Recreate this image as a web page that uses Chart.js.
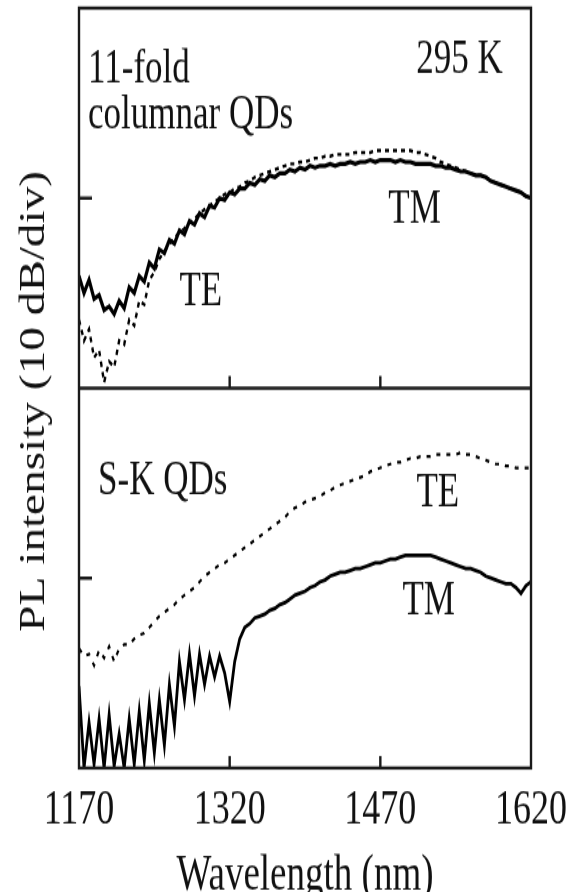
<!DOCTYPE html>
<html lang="en">
<head>
    <meta charset="UTF-8">
    <title>PL intensity TE / TM</title>
    <script src="https://cdn.jsdelivr.net/npm/chart.js"></script>
    <style>
        html {
            overflow: hidden;
        }
        body {
            margin: 0;
            padding: 0;
            width: 573px;
            height: 892px;
            background: #fff;
        }
        /* the original figure is stretched vertically, so is this one */
        #wrap {
            width: 573px;
            height: 666px;
            transform: scaleY(1.35);
            transform-origin: 0 0;
        }
    </style>
</head>
<body>
    <div id="wrap"><canvas id="plChart"></canvas></div>

    <script>
        // wavelength (nm)
        const wavelengths = [
            1170, 1175, 1180, 1185, 1190, 1195, 1200, 1205, 1210, 1215,
            1220, 1225, 1230, 1235, 1240, 1245, 1250, 1255, 1260, 1265,
            1270, 1275, 1280, 1285, 1290, 1295, 1300, 1305, 1310, 1315,
            1320, 1325, 1330, 1335, 1340, 1345, 1350, 1355, 1360, 1365,
            1370, 1375, 1380, 1385, 1390, 1395, 1400, 1405, 1410, 1415,
            1420, 1425, 1430, 1435, 1440, 1445, 1450, 1455, 1460, 1465,
            1470, 1475, 1480, 1485, 1490, 1495, 1500, 1505, 1510, 1515,
            1520, 1525, 1530, 1535, 1540, 1545, 1550, 1555, 1560, 1565,
            1570, 1575, 1580, 1585, 1590, 1595, 1600, 1605, 1610, 1615,
            1620
        ];

        // 11-fold columnar QDs, dB inside the upper panel (0..20)
        const columnarTM = [
            5.9, 5.0, 5.7, 4.7, 4.9, 4.1, 4.3, 3.9, 4.6, 4.2,
            5.3, 5.0, 5.9, 5.6, 6.6, 6.3, 7.3, 7.1, 7.8, 7.6,
            8.3, 8.1, 8.8, 8.6, 9.2, 9.0, 9.6, 9.5, 10.0, 9.9,
            10.3, 10.2, 10.5, 10.5, 10.8, 10.7, 11.0, 10.9, 11.2, 11.1,
            11.3, 11.3, 11.5, 11.4, 11.6, 11.5, 11.7, 11.6, 11.7, 11.7,
            11.8, 11.7, 11.8, 11.8, 11.9, 11.8, 11.9, 11.9, 12.0, 11.9,
            12.0, 12.0, 12.0, 11.9, 12.0, 11.9, 11.9, 11.8, 11.8, 11.8,
            11.8, 11.7, 11.7, 11.6, 11.6, 11.5, 11.4, 11.4, 11.3, 11.2,
            11.2, 11.1, 10.9, 10.8, 10.7, 10.6, 10.5, 10.4, 10.3, 10.1,
            10.0
        ];
        const columnarTE = [
            3.6, 2.5, 3.1, 1.6, 2.0, 0.3, 1.4, 1.1, 2.5, 2.3,
            3.6, 3.3, 4.6, 4.4, 5.7, 6.1, 6.8, 7.2, 7.6, 7.9,
            8.2, 8.4, 8.7, 8.9, 9.2, 9.4, 9.6, 9.8, 10.0, 10.2,
            10.3, 10.5, 10.6, 10.8, 10.9, 11.1, 11.2, 11.3, 11.4, 11.5,
            11.6, 11.7, 11.8, 11.8, 11.9, 11.9, 12.0, 12.1, 12.1, 12.2,
            12.2, 12.3, 12.3, 12.3, 12.3, 12.4, 12.4, 12.4, 12.4, 12.5,
            12.5, 12.5, 12.5, 12.5, 12.5, 12.5, 12.5, 12.4, 12.4, 12.3,
            12.2, 12.1, 11.9, 11.8, 11.7, 11.6, 11.5, 11.4, 11.3, 11.2,
            11.2, 11.1, 10.9, 10.8, 10.7, 10.6, 10.5, 10.4, 10.3, 10.1,
            10.0
        ];

        // S-K QDs, dB inside the lower panel (0..20)
        const skTE = [
            6.3, 5.9, 6.0, 5.4, 6.2, 5.8, 6.4, 5.6, 6.3, 6.5,
            6.5, 6.8, 7.0, 7.1, 7.4, 7.7, 8.0, 8.2, 8.4, 8.6,
            8.9, 9.1, 9.3, 9.5, 9.8, 10.1, 10.3, 10.5, 10.7, 10.8,
            11.0, 11.2, 11.4, 11.6, 11.8, 12.0, 12.2, 12.4, 12.6, 12.8,
            13.0, 13.2, 13.5, 13.7, 13.8, 14.0, 14.1, 14.2, 14.3, 14.5,
            14.6, 14.8, 14.9, 15.0, 15.1, 15.2, 15.3, 15.4, 15.6, 15.7,
            15.8, 15.9, 16.0, 16.1, 16.1, 16.2, 16.3, 16.3, 16.4, 16.4,
            16.4, 16.5, 16.5, 16.5, 16.5, 16.5, 16.6, 16.5, 16.5, 16.4,
            16.3, 16.2, 16.1, 16.0, 16.0, 15.9, 15.9, 15.8, 15.8, 15.8,
            15.8
        ];
        const skTM = [
            4.3, 0.0, 2.4, 0.2, 2.6, 0.0, 2.8, 0.1, 1.8, 0.0,
            2.6, 0.2, 3.0, 0.4, 3.4, 0.8, 3.6, 1.2, 4.4, 2.2,
            5.6, 3.6, 6.0, 3.8, 6.0, 4.4, 5.9, 4.8, 5.9, 5.0,
            3.5, 5.6, 6.8, 7.4, 7.6, 7.9, 8.0, 8.1, 8.3, 8.4,
            8.6, 8.7, 8.9, 9.1, 9.2, 9.3, 9.5, 9.6, 9.8, 9.9,
            10.1, 10.2, 10.3, 10.3, 10.4, 10.5, 10.5, 10.6, 10.7, 10.8,
            10.8, 10.9, 11.0, 11.0, 11.1, 11.2, 11.2, 11.2, 11.2, 11.2,
            11.2, 11.1, 11.0, 10.9, 10.8, 10.7, 10.6, 10.5, 10.5, 10.4,
            10.3, 10.1, 10.0, 9.9, 9.8, 9.7, 9.7, 9.5, 9.2, 9.6,
            9.8
        ];

        const xTickValues = [1170, 1320, 1470, 1620];
        const panelSpan = 20;   // 10 dB/div, two divisions per panel

        const serif = '"Liberation Serif", "Times New Roman", serif';

        function toPoints(values, offset) {
            return wavelengths.map((w, i) => ({ x: w, y: values[i] + offset }));
        }

        // frame, panel divider and inward tick marks
        const framePlugin = {
            id: 'frame',
            afterDatasetsDraw(chart) {
                const { ctx, chartArea: a, scales: { x, y } } = chart;
                ctx.save();
                ctx.strokeStyle = '#1a1a1a';
                ctx.lineWidth = 2.4;
                ctx.strokeRect(a.left, a.top, a.right - a.left, a.bottom - a.top);

                const mid = y.getPixelForValue(panelSpan);
                ctx.beginPath();
                ctx.moveTo(a.left, mid);
                ctx.lineTo(a.right, mid);

                [0, panelSpan].forEach(base => {
                    const yb = y.getPixelForValue(base);
                    xTickValues.slice(1, -1).forEach(v => {
                        const px = x.getPixelForValue(v);
                        ctx.moveTo(px, yb);
                        ctx.lineTo(px, yb - 9);
                    });
                    const py = y.getPixelForValue(base + panelSpan / 2);
                    ctx.moveTo(a.left, py);
                    ctx.lineTo(a.left + 13, py);
                });
                ctx.stroke();
                ctx.restore();
            }
        };

        // text written inside the panels (data units) and the y axis title
        const notesPlugin = {
            id: 'notes',
            afterDraw(chart, args, opts) {
                const { ctx, scales: { x, y } } = chart;
                ctx.save();
                ctx.fillStyle = '#111';
                ctx.font = '35px ' + serif;
                ctx.textBaseline = 'alphabetic';
                opts.items.forEach(n => {
                    ctx.textAlign = n.align || 'left';
                    ctx.fillText(n.text, x.getPixelForValue(n.x), y.getPixelForValue(n.y));
                });

                ctx.translate(opts.yTitle.left, y.getPixelForValue(opts.yTitle.at));
                ctx.rotate(-Math.PI / 2);
                ctx.textAlign = 'center';
                ctx.textBaseline = 'middle';
                ctx.fillText(opts.yTitle.text, 0, 0);
                ctx.restore();
            }
        };

        new Chart(document.getElementById('plChart'), {
            type: 'line',
            data: {
                datasets: [
                    {
                        label: 'columnar TM',
                        data: toPoints(columnarTM, panelSpan),
                        borderColor: '#000',
                        borderWidth: 3.2
                    },
                    {
                        label: 'columnar TE',
                        data: toPoints(columnarTE, panelSpan),
                        borderColor: '#000',
                        borderWidth: 2.4,
                        borderDash: [4, 4]
                    },
                    {
                        label: 'S-K TE',
                        data: toPoints(skTE, 0),
                        borderColor: '#000',
                        borderWidth: 2.2,
                        borderDash: [4, 6]
                    },
                    {
                        label: 'S-K TM',
                        data: toPoints(skTM, 0),
                        borderColor: '#000',
                        borderWidth: 2.8
                    }
                ]
            },
            options: {
                responsive: true,
                maintainAspectRatio: false,
                animation: false,
                events: [],
                elements: { point: { radius: 0 }, line: { tension: 0 } },
                layout: { padding: { left: 0, top: 6, right: 42, bottom: 0 } },
                scales: {
                    x: {
                        type: 'linear',
                        min: 1170,
                        max: 1620,
                        afterBuildTicks: s => { s.ticks = xTickValues.map(v => ({ value: v })); },
                        // edge labels may overhang; the layout padding keeps them on the canvas
                        afterFit: s => { s.paddingLeft = 0; s.paddingRight = 0; },
                        ticks: {
                            color: '#111',
                            padding: 13.9,
                            font: { family: serif, size: 36, lineHeight: 1 },
                            callback: v => String(v)
                        },
                        grid: { display: false, drawTicks: false },
                        border: { display: false },
                        title: {
                            display: true,
                            text: 'Wavelength (nm)',
                            color: '#111',
                            font: { family: serif, size: 37, lineHeight: 0.9 },
                            padding: { top: 0, bottom: 0 }
                        }
                    },
                    y: {
                        min: 0,
                        max: 2 * panelSpan,
                        afterFit: s => { s.width = 79; },
                        ticks: { display: false },
                        grid: { display: false, drawTicks: false },
                        border: { display: false }
                    }
                },
                plugins: {
                    legend: { display: false },
                    tooltip: { enabled: false },
                    notes: {
                        yTitle: { text: 'PL intensity (10 dB/div)', left: 35, at: 19.3 },
                        items: [
                            { text: '11-fold', x: 1179, y: 36.1 },
                            { text: 'columnar QDs', x: 1179, y: 33.7 },
                            { text: '295 K', x: 1592, y: 36.6, align: 'right' },
                            { text: 'TE', x: 1270, y: 24.4 },
                            { text: 'TM', x: 1478, y: 28.7 },
                            { text: 'S-K QDs', x: 1189, y: 14.4 },
                            { text: 'TE', x: 1506, y: 13.8 },
                            { text: 'TM', x: 1492, y: 8.1 }
                        ]
                    }
                }
            },
            plugins: [framePlugin, notesPlugin]
        });
    </script>
</body>
</html>
